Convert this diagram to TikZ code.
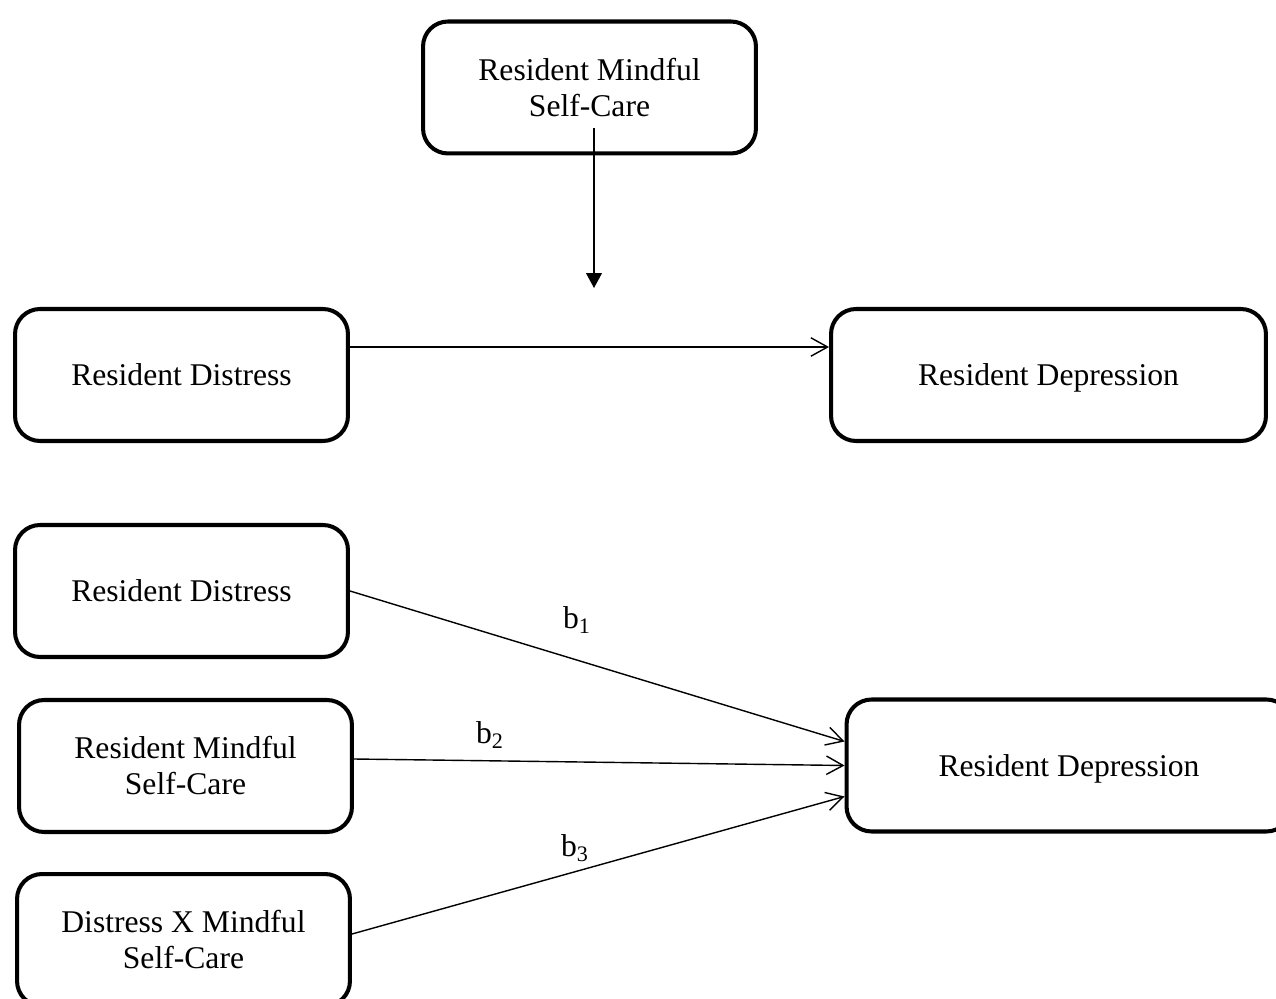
\documentclass[tikz,border=0pt]{standalone}
\usepackage{fontspec}
\setmainfont{Liberation Serif}
\usetikzlibrary{positioning, arrows.meta}

\begin{document}
\begin{tikzpicture}[
    x=0.02cm, y=-0.02cm,
    font=\fontsize{18}{20.5}\selectfont,
    every node/.style={align=center},
    var/.style={
        draw=black, line width=2.3pt, fill=white,
        minimum width=6.66cm, minimum height=2.64cm, rounded corners=0.5cm,
        inner sep=4pt
    },
    outcome/.style={var, minimum width=8.7cm, text depth=0pt},
    effect/.style={
        -{Straight Barb[length=9.5pt, width=10.5pt]},
        line width=0.8pt, draw=black
    },
    moderate/.style={
        -{Triangle[length=8.5pt, width=9pt]},
        line width=0.8pt, draw=black
    },
    coef/.style={inner sep=1pt}
]
\useasboundingbox (0,0) rectangle (1276,999);

% conceptual model
\node[var] (msc) at (589.5,87.5) {Resident Mindful\\Self-Care};
\node[var, text depth=0pt] (dist) at (181.5,375) {Resident Distress};
\node[outcome] (dep) at (1048.5,375) {Resident Depression};

\coordinate (modstart) at (594,128);
\coordinate (modend) at (594,288);
\draw[moderate] (modstart) -- (modend);
\draw[effect] ([yshift=0.56cm]dist.east) -- ([yshift=0.56cm]dep.west);

% statistical model
\node[var, text depth=0pt] (dist2) at (181.5,591) {Resident Distress};
\node[var, below=0.78cm of dist2, xshift=0.08cm] (msc2) {Resident Mindful\\Self-Care};
\node[var, below=0.76cm of msc2, xshift=-0.04cm] (dxm) {Distress X Mindful\\Self-Care};
\node[outcome, minimum width=8.9cm] (dep2) at (1069,765.5) {Resident Depression};

\draw[effect] (dist2.east) -- ([yshift=0.48cm]dep2.west);
\draw[effect] ([yshift=0.14cm]msc2.east) -- (dep2.west);
\draw[effect] ([yshift=0.12cm]dxm.east) -- ([yshift=-0.62cm]dep2.west);

\node[coef] (b1) at (577,620) {b\textsubscript{1}};
\node[coef] (b2) at (490,735) {b\textsubscript{2}};
\node[coef] (b3) at (575,848) {b\textsubscript{3}};

\end{tikzpicture}
\end{document}
